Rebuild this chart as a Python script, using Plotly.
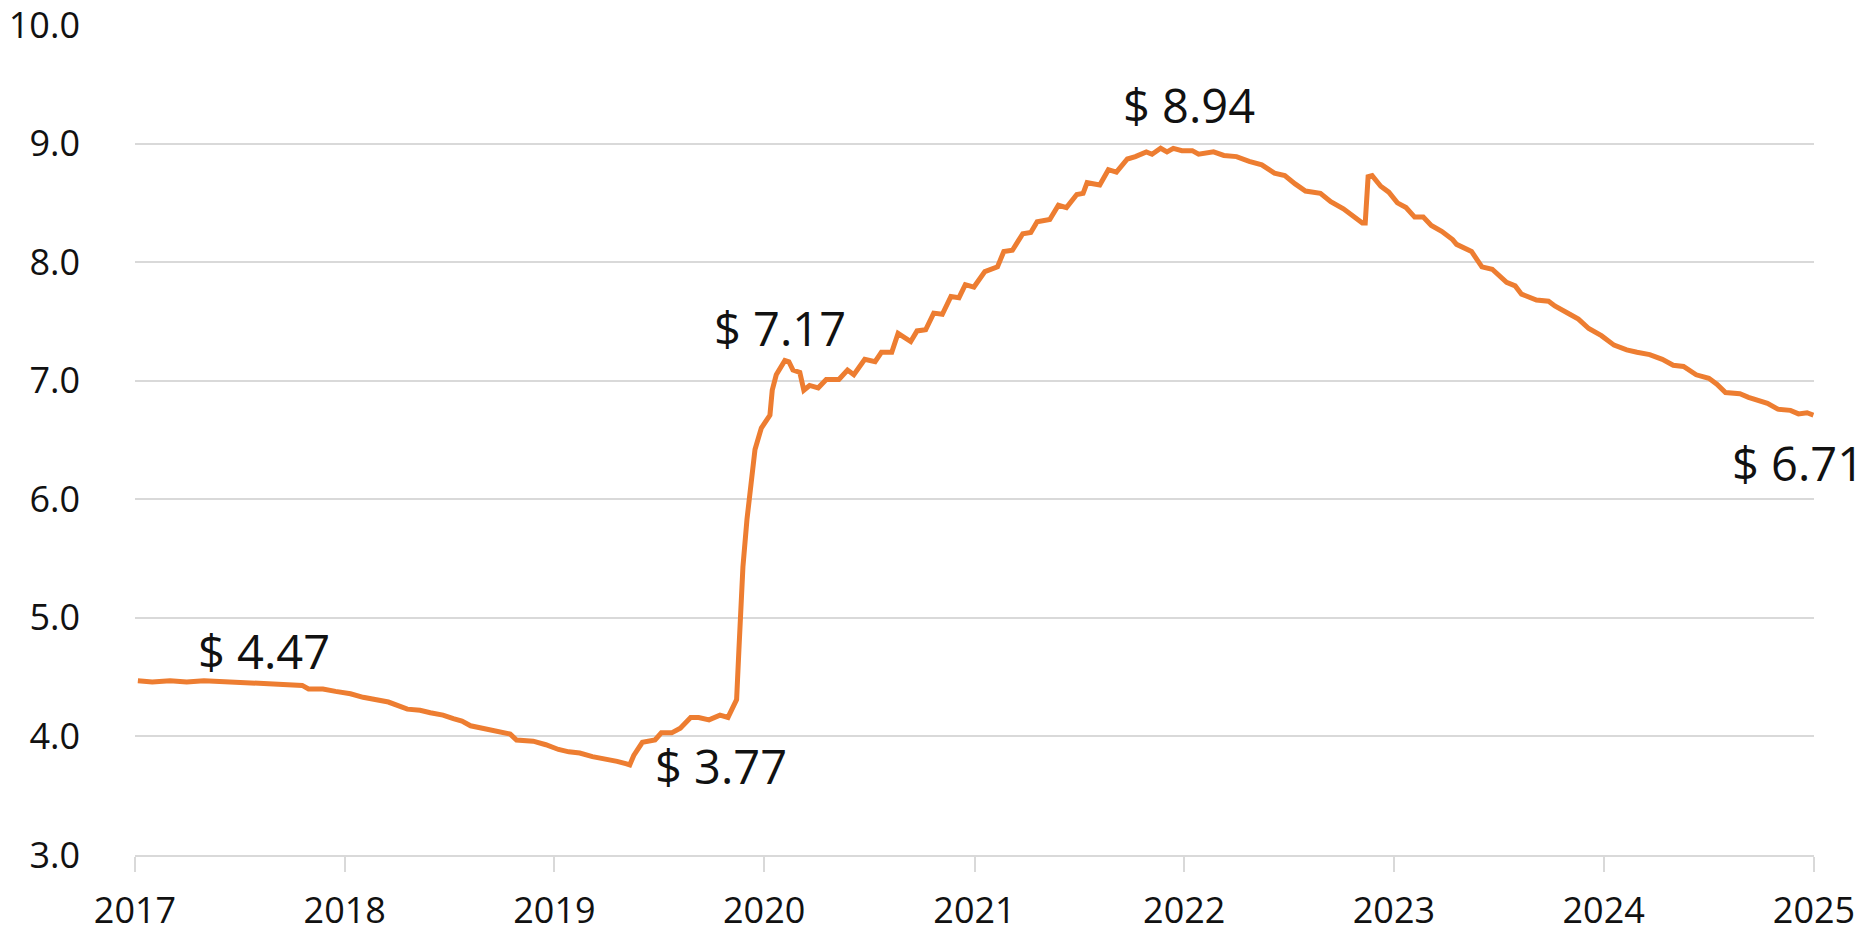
import plotly.graph_objects as go

# weekly-ish reading of the price series, Jan 2017 - Dec 2024
dates = [
    "2017-01-06", "2017-01-31", "2017-03-03", "2017-04-01", "2017-05-01", "2017-06-14",
    "2017-07-20", "2017-08-25", "2017-09-27", "2017-10-19", "2017-10-30", "2017-11-24",
    "2017-12-16", "2018-01-11", "2018-02-02", "2018-02-24", "2018-03-18", "2018-04-20",
    "2018-05-12", "2018-05-30", "2018-06-21", "2018-07-09", "2018-07-24", "2018-08-08",
    "2018-09-09", "2018-10-01", "2018-10-16", "2018-10-27", "2018-11-25", "2018-12-17",
    "2019-01-08", "2019-01-26", "2019-02-14", "2019-03-08", "2019-04-01", "2019-04-20",
    "2019-05-05", "2019-05-12", "2019-05-19", "2019-06-03", "2019-06-25", "2019-07-06",
    "2019-07-24", "2019-08-08", "2019-08-26", "2019-09-09", "2019-09-27", "2019-10-16",
    "2019-10-30", "2019-11-14", "2019-11-18", "2019-11-25", "2019-12-02", "2019-12-09",
    "2019-12-16", "2019-12-27", "2020-01-11", "2020-01-15", "2020-01-22", "2020-02-06",
    "2020-02-13", "2020-02-20", "2020-03-03", "2020-03-10", "2020-03-20", "2020-04-04",
    "2020-04-18", "2020-05-10", "2020-05-25", "2020-06-05", "2020-06-24", "2020-07-12",
    "2020-07-23", "2020-08-10", "2020-08-21", "2020-09-12", "2020-09-23", "2020-10-08",
    "2020-10-22", "2020-11-06", "2020-11-21", "2020-12-05", "2020-12-16", "2020-12-31",
    "2021-01-19", "2021-02-10", "2021-02-21", "2021-03-08", "2021-03-26", "2021-04-09",
    "2021-04-20", "2021-05-12", "2021-05-27", "2021-06-10", "2021-06-28", "2021-07-09",
    "2021-07-16", "2021-08-07", "2021-08-22", "2021-09-05", "2021-09-24", "2021-10-08",
    "2021-10-27", "2021-11-06", "2021-11-21", "2021-12-02", "2021-12-13", "2021-12-28",
    "2022-01-15", "2022-01-26", "2022-02-21", "2022-03-11", "2022-04-02", "2022-04-24",
    "2022-05-16", "2022-06-07", "2022-06-25", "2022-07-13", "2022-07-31", "2022-08-26",
    "2022-09-13", "2022-10-05", "2022-10-19", "2022-11-07", "2022-11-12", "2022-11-17",
    "2022-11-24", "2022-12-09", "2022-12-23", "2023-01-07", "2023-01-22", "2023-02-06",
    "2023-02-21", "2023-03-07", "2023-03-25", "2023-04-13", "2023-04-20", "2023-05-16",
    "2023-06-03", "2023-06-21", "2023-07-16", "2023-07-31", "2023-08-11", "2023-09-06",
    "2023-09-27", "2023-10-08", "2023-11-03", "2023-11-18", "2023-12-06", "2023-12-28",
    "2024-01-19", "2024-02-10", "2024-02-28", "2024-03-21", "2024-04-12", "2024-05-01",
    "2024-05-19", "2024-06-10", "2024-07-02", "2024-07-16", "2024-07-31", "2024-08-25",
    "2024-09-09", "2024-09-27", "2024-10-12", "2024-10-30", "2024-11-21", "2024-12-05",
    "2024-12-20", "2024-12-31",
]
prices = [
    4.47, 4.46, 4.47, 4.46, 4.47, 4.46,
    4.46, 4.45, 4.44, 4.43, 4.40, 4.40,
    4.38, 4.36, 4.33, 4.31, 4.29, 4.23,
    4.22, 4.20, 4.18, 4.15, 4.13, 4.09,
    4.06, 4.04, 4.02, 3.97, 3.96, 3.93,
    3.89, 3.87, 3.86, 3.83, 3.81, 3.79,
    3.77, 3.76, 3.84, 3.95, 3.97, 4.03,
    4.03, 4.07, 4.16, 4.16, 4.14, 4.18,
    4.16, 4.31, 4.73, 5.43, 5.83, 6.14,
    6.42, 6.60, 6.71, 6.92, 7.05, 7.17,
    7.16, 7.09, 7.07, 6.92, 6.96, 6.94,
    7.01, 7.01, 7.09, 7.05, 7.18, 7.16,
    7.24, 7.24, 7.40, 7.33, 7.42, 7.43,
    7.57, 7.56, 7.71, 7.70, 7.81, 7.79,
    7.92, 7.96, 8.09, 8.10, 8.24, 8.25,
    8.34, 8.36, 8.48, 8.46, 8.57, 8.58,
    8.67, 8.65, 8.78, 8.76, 8.87, 8.89,
    8.93, 8.91, 8.96, 8.93, 8.96, 8.94,
    8.94, 8.91, 8.93, 8.90, 8.89, 8.85,
    8.82, 8.75, 8.73, 8.66, 8.60, 8.58,
    8.51, 8.45, 8.40, 8.33, 8.33, 8.72,
    8.73, 8.64, 8.59, 8.50, 8.46, 8.38,
    8.38, 8.31, 8.26, 8.19, 8.15, 8.09,
    7.96, 7.94, 7.83, 7.80, 7.73, 7.68,
    7.67, 7.63, 7.56, 7.52, 7.44, 7.38,
    7.30, 7.26, 7.24, 7.22, 7.18, 7.13,
    7.12, 7.05, 7.02, 6.97, 6.90, 6.89,
    6.86, 6.83, 6.81, 6.76, 6.75, 6.72,
    6.73, 6.71,
]

# labelled points: (date, value)
label_dates = ["2017-01-06", "2019-05-05", "2020-02-06", "2021-12-28", "2024-12-31"]
label_values = [4.47, 3.77, 7.17, 8.94, 6.71]
# pixel offsets of each label from its point (x, y-up)
LABEL_SHIFTS = [(126, 30), (95, -2), (-5, 33), (7, 46), (-15, -48)]

LINE_COLOR = "#ED7D31"
GRID_COLOR = "#D9D9D9"
FONT = "Open Sans"

fig = go.Figure()
fig.add_trace(
    go.Scatter(
        x=dates,
        y=prices,
        mode="lines",
        line=dict(color=LINE_COLOR, width=5),
        showlegend=False,
        hoverinfo="skip",
    )
)

for d, v, (dx, dy) in zip(label_dates, label_values, LABEL_SHIFTS):
    fig.add_annotation(
        x=d,
        y=v,
        text=f"$ {v:.2f}",
        showarrow=False,
        xanchor="center",
        yanchor="middle",
        xshift=dx,
        yshift=dy,
        font=dict(family=FONT, size=47, color="#111111"),
    )

fig.update_layout(
    width=1873,
    height=928,
    margin=dict(l=135, r=59, t=25, b=73, autoexpand=False),
    plot_bgcolor="white",
    paper_bgcolor="white",
    font=dict(family=FONT, size=36, color="#111111"),
    xaxis=dict(
        type="date",
        range=["2017-01-01", "2025-01-01"],
        dtick="M12",
        tick0="2017-01-01",
        tickformat="%Y",
        showgrid=False,
        showline=True,
        linecolor=GRID_COLOR,
        linewidth=2,
        ticks="outside",
        ticklen=15,
        tickwidth=2,
        tickcolor=GRID_COLOR,
        ticklabelstandoff=8,
        ticklabeloverflow="allow",
        zeroline=False,
        automargin=False,
    ),
    yaxis=dict(
        range=[3, 10],
        dtick=1,
        tick0=3,
        tickformat=".1f",
        showgrid=True,
        gridcolor=GRID_COLOR,
        gridwidth=1.5,
        showline=False,
        zeroline=False,
        ticklabelstandoff=54,
        ticklabeloverflow="allow",
        automargin=False,
    ),
)

# the page body has a default 8px margin; drop it so the figure fills the window
fig.write_html(
    "out.html",
    config={"displayModeBar": False},
    post_script="document.body.style.margin='0';",
)
